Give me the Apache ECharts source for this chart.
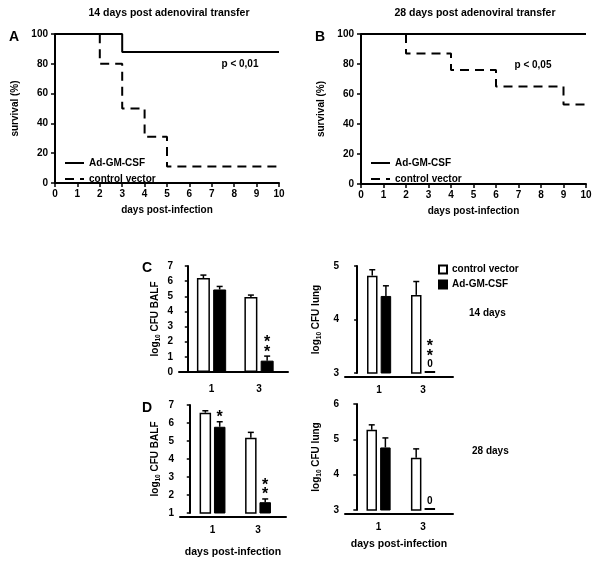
<!DOCTYPE html>
<html><head><meta charset="utf-8">
<script src="https://cdn.jsdelivr.net/npm/echarts@6/dist/echarts.min.js"></script>
<style>html,body{margin:0;padding:0;background:#fff}#c{width:600px;height:561px}</style>
</head><body><div id="c"></div>
<script>
// ---------- survival data (days, % survival) ----------
const survDaysA_gm = [0, 3, 10];
const survValsA_gm = [100, 88, 88];
const survDaysA_cv = [0, 2, 3, 4, 5, 10];
const survValsA_cv = [100, 80, 50, 31, 11, 11];
const survDaysB_gm = [0, 10];
const survValsB_gm = [100, 100];
const survDaysB_cv = [0, 2, 4, 6, 9, 10];
const survValsB_cv = [100, 87, 76, 65, 53, 53];

// ---------- CFU data (log10), days 1 and 3 ----------
const cfuDays = [1, 3];
const balf14_cv = [6.2, 4.95];   const balf14_cv_sd = [0.2, 0.13];
const balf14_gm = [5.45, 0.75];  const balf14_gm_sd = [0.2, 0.3];
const lung14_cv = [4.82, 4.46];  const lung14_cv_sd = [0.11, 0.25];
const lung14_gm = [4.44, 0];     const lung14_gm_sd = [0.19, 0];
const balf28_cv = [6.57, 5.18];  const balf28_cv_sd = [0.11, 0.3];
const balf28_gm = [5.79, 1.6];   const balf28_gm_sd = [0.28, 0.18];
const lung28_cv = [5.27, 4.48];  const lung28_cv_sd = [0.14, 0.25];
const lung28_gm = [4.77, 0];     const lung28_gm_sd = [0.27, 0];
// significance annotations
const sig14balf_gm = ['', '**'];
const sig14lung_gm = ['', '**0'];
const sig28balf_gm = ['*', '**'];
const sig28lung_gm = ['', '0'];
const noSig = ['', ''];

const FONT = '"Liberation Sans", Arial, Helvetica, sans-serif';
const T = (s) => ({fontFamily: FONT, fontWeight: 'bold', fontSize: s || 10, color: '#000'});
const AX = {lineStyle: {color: '#000', width: 2}};

const chart = echarts.init(document.getElementById('c'), null, {renderer: 'canvas'});

const pts = (d, v) => d.map((x, i) => [x, v[i]]);

function survX(gi, name) {
  return {type: 'value', gridIndex: gi, min: 0, max: 10, interval: 1,
    axisLine: AX, axisTick: {show: true, length: 4, lineStyle: {color: '#000', width: 1.5}},
    axisLabel: Object.assign(T(10), {margin: 6}), splitLine: {show: false},
    name: name, nameLocation: 'middle', nameGap: 22, nameTextStyle: T(10)};
}
function survY(gi) {
  return {type: 'value', gridIndex: gi, min: 0, max: 100, interval: 20,
    axisLine: Object.assign({show: true}, AX), axisTick: {show: true, length: 4, lineStyle: {color: '#000', width: 1.5}},
    axisLabel: Object.assign(T(10), {margin: 7}), splitLine: {show: false},
    name: 'survival (%)', nameLocation: 'middle', nameGap: 35, nameRotate: 90, nameTextStyle: T(10)};
}
function barX(gi, min, max, name, gap) {
  return {type: 'value', gridIndex: gi, min: min, max: max, offset: 4,
    axisLine: AX, axisTick: {show: false},
    axisLabel: Object.assign(T(10), {margin: 8, customValues: cfuDays}), splitLine: {show: false},
    name: name || '', nameLocation: 'middle', nameGap: gap || 25, nameTextStyle: T(10.5)};
}
function barY(gi, min, max, label, gap) {
  return {type: 'value', gridIndex: gi, min: min, max: max, interval: 1,
    axisLine: Object.assign({show: true}, AX), axisTick: {show: true, length: 3, lineStyle: {color: '#000', width: 1.5}},
    axisLabel: Object.assign(T(10), {margin: 6}), splitLine: {show: false},
    name: '{a|log}{s|10}{a| CFU ' + label + '}', nameLocation: 'middle', nameGap: gap, nameRotate: 90,
    nameTextStyle: {rich: {a: T(10), s: Object.assign(T(6.5), {verticalAlign: 'bottom', padding: [6, 0, 0, 0]})}}};
}

function lineS(name, gi, data, dashed) {
  return {type: 'line', name: name, xAxisIndex: gi, yAxisIndex: gi, step: 'end', symbol: 'none',
    data: data, lineStyle: {color: '#000', width: 2, type: dashed ? [9, 6] : 'solid'},
    itemStyle: {color: '#000'}, z: dashed ? 2 : 3, animation: false};
}

function barS(name, gi, vals, min, cfg, white) {
  return {type: 'bar', name: name, xAxisIndex: gi, yAxisIndex: gi, barWidth: cfg.w, barGap: (cfg.gap * 100) + '%',
    data: cfuDays.map((d, i) => [d, vals[i] > min ? vals[i] : '-']),
    itemStyle: white ? {color: '#fff', borderColor: '#000', borderWidth: 1.5} : {color: '#000', borderColor: '#000', borderWidth: 1},
    animation: false};
}

function errS(gi, cfg, groups) {
  const items = [];
  groups.forEach((g, si) => g.mean.forEach((m, i) => items.push({x: cfuDays[i], m: m, sd: g.sd[i], sig: g.sig[i], side: si ? 1 : -1})));
  return {type: 'custom', xAxisIndex: gi, yAxisIndex: gi, z: 10, silent: true, clip: false, animation: false,
    data: items.map(it => [it.x, it.m > cfg.min ? it.m + it.sd : cfg.min]),
    renderItem: function (params, api) {
      const it = items[params.dataIndex];
      const off = it.side * cfg.w * (1 + cfg.gap) / 2;
      const b = api.coord([it.x, cfg.min]);
      const cx = b[0] + off;
      const ch = [];
      let topY;
      if (it.m > cfg.min) {
        const t = api.coord([it.x, it.m]);
        const e = api.coord([it.x, it.m + it.sd]);
        ch.push({type: 'line', shape: {x1: cx, y1: t[1], x2: cx, y2: e[1]}, style: {stroke: '#000', lineWidth: 1.5}});
        ch.push({type: 'line', shape: {x1: cx - 3, y1: e[1], x2: cx + 3, y2: e[1]}, style: {stroke: '#000', lineWidth: 1.5}});
        topY = e[1];
      } else {
        ch.push({type: 'rect', shape: {x: cx - cfg.w / 2, y: b[1] - 2, width: cfg.w, height: 2}, style: {fill: '#000'}});
        topY = b[1] - 1;
      }
      const chars = (it.sig || '').split('').reverse();
      let vy = topY - 8;
      chars.forEach((c) => {
        const star = c === '*';
        ch.push({type: 'text', style: {text: c, x: cx, y: star ? vy + 4 : vy, align: 'center', verticalAlign: 'middle',
          font: 'bold ' + (star ? 16 : 10) + 'px ' + FONT, fill: '#000'}});
        vy -= star ? 9.5 : 11.5;
      });
      return {type: 'group', children: ch};
    }};
}

const cCL = {w: 13, gap: 0.25, min: 0};
const cCR = {w: 10.5, gap: 0.3, min: 3};
const cDL = {w: 11.5, gap: 0.25, min: 1};
const cDR = {w: 10.5, gap: 0.3, min: 3};

function gtext(text, x, y, size, align) {
  return {type: 'text', x: x, y: y, silent: true,
    style: {text: text, font: 'bold ' + size + 'px ' + FONT, fill: '#000',
      align: align || 'center', textAlign: align || 'center', verticalAlign: 'middle', textVerticalAlign: 'middle'}};
}

const option = {
  backgroundColor: '#fff',
  animation: false,
  grid: [
    {left: 55, top: 34, width: 224, height: 149},
    {left: 361, top: 34, width: 225, height: 150},
    {left: 179, top: 266, width: 109, height: 106},
    {left: 345, top: 266, width: 108, height: 107},
    {left: 180, top: 405, width: 106, height: 108},
    {left: 345, top: 404, width: 108, height: 106}
  ],
  xAxis: [
    survX(0, 'days post-infection'),
    survX(1, 'days post-infection'),
    barX(2, -0.37, 4.22),
    barX(3, -0.55, 4.36),
    barX(4, -0.43, 4.23, 'days post-infection', 30),
    barX(5, -0.51, 4.35, 'days post-infection', 25)
  ],
  yAxis: [
    survY(0), survY(1),
    barY(2, 0, 7, 'BALF', 17),
    barY(3, 3, 5, 'lung', 22),
    barY(4, 1, 7, 'BALF', 18),
    barY(5, 3, 6, 'lung', 22)
  ],
  legend: [
    {left: 59, top: 151, orient: 'vertical', itemGap: 2, itemWidth: 19, itemHeight: 14, selectedMode: false,
      data: ['Ad-GM-CSF', 'control vector'], textStyle: Object.assign(T(10), {lineHeight: 14}),
      lineStyle: {width: 2}, itemStyle: {opacity: 0}},
    {left: 365, top: 151, orient: 'vertical', itemGap: 2, itemWidth: 19, itemHeight: 14, selectedMode: false,
      data: ['Ad-GM-CSF', 'control vector'], textStyle: Object.assign(T(10), {lineHeight: 14}),
      lineStyle: {width: 2}, itemStyle: {opacity: 0}},
    {left: 433, top: 258, orient: 'vertical', itemGap: 2, itemWidth: 8, itemHeight: 8, selectedMode: false, icon: 'rect',
      data: ['bar: control vector', 'bar: Ad-GM-CSF'], formatter: (n) => n.replace('bar: ', ''),
      textStyle: Object.assign(T(10), {lineHeight: 13})}
  ],
  series: [
    lineS('Ad-GM-CSF', 0, pts(survDaysA_gm, survValsA_gm), false),
    lineS('control vector', 0, pts(survDaysA_cv, survValsA_cv), true),
    lineS('Ad-GM-CSF', 1, pts(survDaysB_gm, survValsB_gm), false),
    lineS('control vector', 1, pts(survDaysB_cv, survValsB_cv), true),

    barS('bar: control vector', 2, balf14_cv, cCL.min, cCL, true),
    barS('bar: Ad-GM-CSF', 2, balf14_gm, cCL.min, cCL, false),
    errS(2, cCL, [{mean: balf14_cv, sd: balf14_cv_sd, sig: noSig}, {mean: balf14_gm, sd: balf14_gm_sd, sig: sig14balf_gm}]),

    barS('bar: control vector', 3, lung14_cv, cCR.min, cCR, true),
    barS('bar: Ad-GM-CSF', 3, lung14_gm, cCR.min, cCR, false),
    errS(3, cCR, [{mean: lung14_cv, sd: lung14_cv_sd, sig: noSig}, {mean: lung14_gm, sd: lung14_gm_sd, sig: sig14lung_gm}]),

    barS('bar: control vector', 4, balf28_cv, cDL.min, cDL, true),
    barS('bar: Ad-GM-CSF', 4, balf28_gm, cDL.min, cDL, false),
    errS(4, cDL, [{mean: balf28_cv, sd: balf28_cv_sd, sig: noSig}, {mean: balf28_gm, sd: balf28_gm_sd, sig: sig28balf_gm}]),

    barS('bar: control vector', 5, lung28_cv, cDR.min, cDR, true),
    barS('bar: Ad-GM-CSF', 5, lung28_gm, cDR.min, cDR, false),
    errS(5, cDR, [{mean: lung28_cv, sd: lung28_cv_sd, sig: noSig}, {mean: lung28_gm, sd: lung28_gm_sd, sig: sig28lung_gm}])
  ],
  graphic: [
    gtext('14 days post adenoviral transfer', 169, 13, 10.5),
    gtext('28 days post adenoviral transfer', 475, 13, 10.5),
    gtext('A', 14, 37, 14),
    gtext('B', 320, 37, 14),
    gtext('C', 147, 268, 14),
    gtext('D', 147, 408, 14),
    gtext('p < 0,01', 240, 64, 10),
    gtext('p < 0,05', 533, 65, 10),
    gtext('14 days', 469, 313, 10, 'left'),
    gtext('28 days', 472, 451, 10, 'left')
  ]
};
chart.setOption(option);
</script>
</body></html>
